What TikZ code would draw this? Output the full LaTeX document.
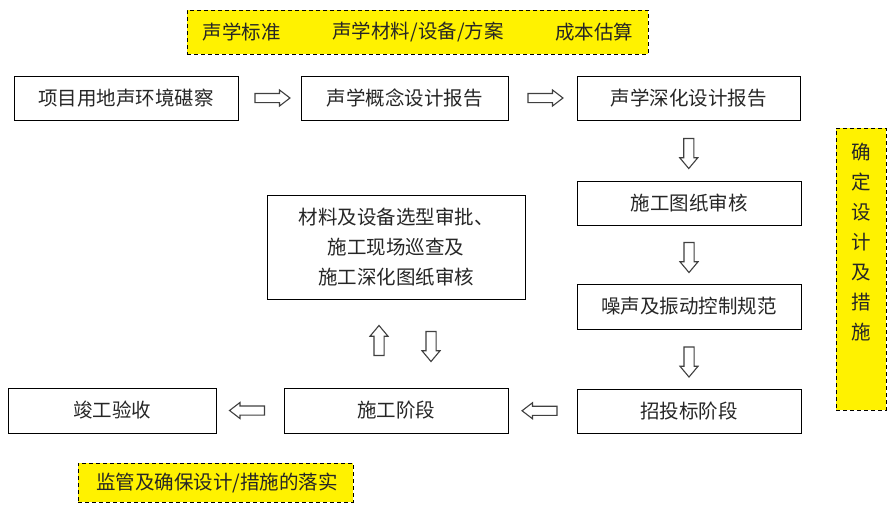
\documentclass[tikz,border=0pt]{standalone}
\usepackage{fontspec}
\setmainfont{Noto Sans CJK SC}
\usetikzlibrary{shapes.arrows,calc}
\begin{document}
\begin{tikzpicture}[x=1pt,y=-1pt,
 box/.style={draw=black,line width=0.9pt,fill=white,inner sep=0pt,font=\fontsize{19.5}{30}\selectfont,text=black!85},
 note/.style={draw=black,dash pattern=on 4pt off 3pt,line width=0.9pt,fill=yellow,inner sep=0pt},
 txt/.style={inner sep=0pt,font=\fontsize{19.5}{30}\selectfont,text=black!85},
 harrow/.style={single arrow,draw=black!75,fill=white,line width=1.1pt,inner sep=4pt,minimum height=35pt,single arrow head extend=3.5pt,single arrow tip angle=75},
 varrow/.style={single arrow,draw=black!75,fill=white,line width=1.1pt,inner sep=4.5pt,minimum height=30pt,single arrow head extend=4pt,single arrow tip angle=80},
]
\useasboundingbox (0,0) rectangle (896,515);
\fill[white] (0,0) rectangle (896,515);

% yellow notes
\node[note,minimum width=461pt,minimum height=44pt] (y1) at (417.5,32) {};
\node[txt] (t1) at (241.5,32) {声学标准};
\node[txt] (t2) at (418,32) {声学材料/设备/方案};
\node[txt] (t3) at (594,32) {成本估算};

\node[note,minimum width=50pt,minimum height=282pt] (y2) at (861,269) {};
\node[txt,align=center] (y2t) at (861,242) {确\\定\\设\\计\\及\\措\\施};

\node[note,minimum width=275pt,minimum height=39pt] (y3) at (215.5,482.5) {};
\node[txt] (y3t) at (217,482.5) {监管及确保设计/措施的落实};

% boxes
\node[box,minimum width=224pt,minimum height=44pt] (b1) at (126,98) {项目用地声环境碪察};
\node[box,minimum width=207pt,minimum height=44pt] (b2) at (404.5,98) {声学概念设计报告};
\node[box,minimum width=223pt,minimum height=44pt] (b3) at (688.5,98) {声学深化设计报告};
\node[box,minimum width=224pt,minimum height=44pt] (b4) at (689,203) {施工图纸审核};
\node[box,minimum width=224pt,minimum height=45pt] (b5) at (689,306.5) {噪声及振动控制规范};
\node[box,minimum width=224pt,minimum height=44pt] (b6) at (689,411) {招投标阶段};
\node[box,minimum width=224pt,minimum height=45pt] (b7) at (396,410.5) {施工阶段};
\node[box,minimum width=208pt,minimum height=45pt] (b8) at (112,410.5) {竣工验收};
\node[box,minimum width=258pt,minimum height=104pt,align=center] (b9) at (396,247) {材料及设备选型审批、\\施工现场巡查及\\施工深化图纸审核};

% block arrows
\node[harrow] (a1) at ($(b1.east)!0.5!(b2.west)$) {};
\node[harrow] (a2) at ($(b2.east)!0.5!(b3.west)$) {};
\node[varrow,shape border rotate=270] (a3) at ($(b3.south)!0.5!(b4.north)$) {};
\node[varrow,shape border rotate=270] (a4) at ($(b4.south)!0.5!(b5.north)$) {};
\node[varrow,shape border rotate=270] (a5) at ($(b5.south)!0.5!(b6.north)$) {};
\node[harrow,shape border rotate=180] (a6) at ($(b6.west)!0.5!(b7.east)$) {};
\node[harrow,shape border rotate=180] (a7) at ($(b7.west)!0.5!(b8.east)$) {};
\coordinate (mid) at ($(b9.south)!0.5!(b7.north)$);
\node[varrow,shape border rotate=90] (a8) at ($(mid)+(-17,0)$) {};
\node[varrow,shape border rotate=270] (a9) at ($(mid)+(35,0)$) {};
\end{tikzpicture}
\end{document}
